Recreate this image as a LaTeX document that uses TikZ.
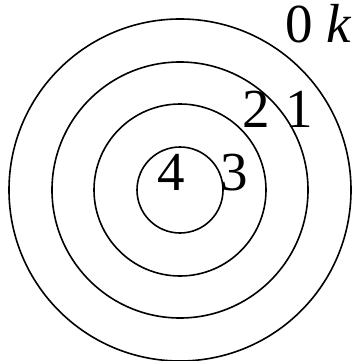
\documentclass[tikz,border=0pt]{standalone}
\usepackage{fontspec}
\setmainfont{Liberation Serif}
\begin{document}
\begin{tikzpicture}[x=1pt,y=-1pt,
  ring/.style={draw=black,line width=1.6pt},
  lbl/.style={inner sep=0pt,anchor=base,font=\rmfamily\fontsize{55}{55}\selectfont}]
\useasboundingbox (0,0) rectangle (357,361);
\coordinate (c) at (180,190);
\draw[ring] (c) circle[radius=171];
\draw[ring] (c) circle[radius=128];
\draw[ring] (c) circle[radius=86];
\draw[ring] (c) circle[radius=43];
\node[lbl] (l0) at (299,42) {0};
\node[lbl] (lk) at (339,42) {\textit{k}};
\node[lbl] (l1) at (299,127) {1};
\node[lbl] (l2) at (256,127) {2};
\node[lbl] (l3) at (234,190) {3};
\node[lbl] (l4) at (171,190) {4};
\end{tikzpicture}
\end{document}
